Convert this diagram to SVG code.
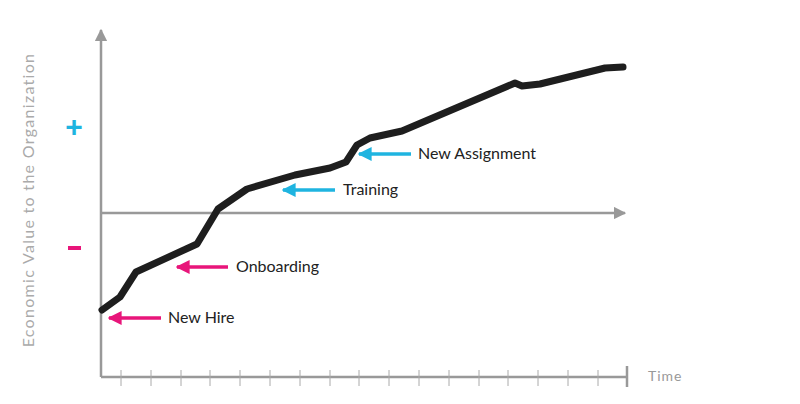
<svg xmlns="http://www.w3.org/2000/svg" width="800" height="404" viewBox="0 0 800 404">
<style>
.ax{stroke:#999;stroke-width:2.5;fill:none}
.tk{stroke:#aaa;stroke-width:1}
.lbl{font-family:"Lato","Liberation Sans",sans-serif;font-size:16px;fill:#222}
.pk{stroke:#e8157a;stroke-width:3.5}
.bl{stroke:#1fb4e0;stroke-width:3.5}
</style>
<defs>
<marker id="ah" viewBox="0 0 10 10" refX="9" refY="5" markerWidth="5" markerHeight="5" orient="auto" markerUnits="strokeWidth"><path d="M0,0L10,5L0,10z" fill="#999"/></marker>
<marker id="pa" viewBox="0 0 10 10" refX="9" refY="5" markerWidth="4" markerHeight="4" orient="auto"><path d="M0,0L10,5L0,10z" fill="#e8157a"/></marker>
<marker id="ba" viewBox="0 0 10 10" refX="9" refY="5" markerWidth="4" markerHeight="4" orient="auto"><path d="M0,0L10,5L0,10z" fill="#1fb4e0"/></marker>
</defs>
<g id="axes">
<line class="ax" x1="101" y1="377" x2="101" y2="30" marker-end="url(#ah)"/>
<line class="ax" x1="101" y1="377" x2="627" y2="377"/>
<line class="ax" x1="627" y1="366" x2="627" y2="387"/>
<line class="ax" x1="101" y1="213" x2="625" y2="213" marker-end="url(#ah)"/>
<g class="tk">
<path d="M121,370V386M151,370V386M181,370V386M210,370V386M240,370V386M270,370V386M300,370V386M330,370V386M359,370V386M389,370V386M419,370V386M449,370V386M479,370V386M508,370V386M538,370V386M568,370V386M598,370V386"/>
</g>
</g>
<text x="34" y="200" transform="rotate(-90 34 200)" text-anchor="middle" font-family="Lato,'Liberation Sans',sans-serif" font-size="16" letter-spacing="1.3" fill="#aaa">Economic Value to the Organization</text>
<text x="74" y="137" text-anchor="middle" font-family="'Liberation Sans',sans-serif" font-size="30" font-weight="bold" fill="#1fb4e0">+</text>
<rect x="68" y="246" width="13" height="4" fill="#e8157a"/>
<text x="648" y="381" font-family="Lato,'Liberation Sans',sans-serif" font-size="14" letter-spacing="1" fill="#999">Time</text>
<g id="curve"><path d="M102,310L120,297L136,272L197,244L218,209L247,189L295,175L330,168L346,162L357,145L370,138L402,131L515,83L522,86L540,84L605,68L623,67" fill="none" stroke="#1e1e1e" stroke-width="7" stroke-linejoin="round" stroke-linecap="round"/></g>
<g id="newhire"><line class="pk" x1="161" y1="318" x2="109" y2="318" marker-end="url(#pa)"/><text class="lbl" x="168" y="323">New Hire</text></g>
<g id="onboarding"><line class="pk" x1="228" y1="267" x2="177" y2="267" marker-end="url(#pa)"/><text class="lbl" x="236" y="272">Onboarding</text></g>
<g id="training"><line class="bl" x1="335" y1="190" x2="283" y2="190" marker-end="url(#ba)"/><text class="lbl" x="343" y="195">Training</text></g>
<g id="assign"><line class="bl" x1="411" y1="154" x2="359" y2="154" marker-end="url(#ba)"/><text class="lbl" x="418" y="159">New Assignment</text></g>
</svg>
